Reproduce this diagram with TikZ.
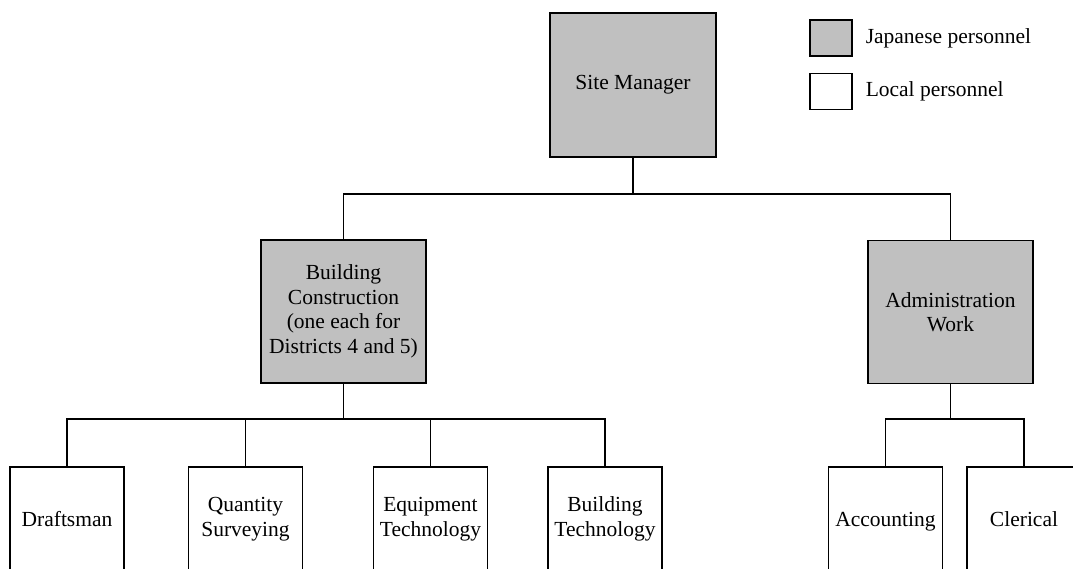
\documentclass[tikz,border=0pt]{standalone}
\usepackage{fontspec}
\setmainfont{Liberation Serif}
\usetikzlibrary{positioning}

\definecolor{jpgray}{HTML}{C0C0C0}

\tikzset{every picture/.style={line width=1.5pt}}
\tikzset{
	post/.style={draw=black, inner sep=0pt, align=center,
		font=\fontsize{21.5}{24.5}\selectfont},
	japanese/.style={post, fill=jpgray},
	local/.style={post, fill=white},
	bigpost/.style={minimum width=165pt, minimum height=143pt},
	smallpost/.style={minimum width=114pt, minimum height=104pt},
	legendbox/.style={draw=black, minimum width=42pt, minimum height=36pt, inner sep=0pt},
	legendtext/.style={anchor=west, inner sep=0pt, font=\fontsize{21.5}{24.5}\selectfont}}

\begin{document}
\begin{tikzpicture}[x=1pt,y=1pt,yscale=-1,xscale=1]
	\useasboundingbox (0,0) rectangle (1073,569);
	\clip (0,0) rectangle (1073,569);

	% Site manager at the top
	\node[japanese, minimum width=166pt, minimum height=144pt] (sm) at (633,85) {Site Manager};

	% Legend
	\node[legendbox, fill=jpgray] (keyjp) at (831,38) {};
	\node[legendbox, fill=white] (keylocal) at (831,91.5) {};
	\node[legendtext] (keyjptext) at (865,38) {Japanese personnel};
	\node[legendtext] (keylocaltext) at (865,91.5) {Local personnel};

	% Second level
	\node[japanese, bigpost] (bc) at (343.5,311.5) {Building\\Construction\\(one each for\\Districts 4 and 5)};
	\node[japanese, bigpost] (adm) at (950.5,312) {Administration\\Work};

	% Local staff under building construction
	\node[local, smallpost] (draft) at (67,519) {Draftsman};
	\node[local, smallpost] (quant) at (245.5,519) {Quantity\\Surveying};
	\node[local, smallpost] (equip) at (430.5,519) {Equipment\\Technology};
	\node[local, smallpost] (btech) at (605,519) {Building\\Technology};

	% Local staff under administration
	\node[local, smallpost, text depth=0pt] (acct) at (885.5,519) {Accounting};
	\node[local, smallpost] (cler) at (1024,519) {Clerical};

	% Branch points
	\coordinate (topbus) at (633,194);
	\coordinate (bcbus) at (343.5,419);
	\coordinate (admbus) at (950.5,419);

	% Connectors
	\draw (sm.south) -- (topbus);
	\draw (bc.north) |- (topbus) -| (adm.north);
	\draw (bc.south) -- (bcbus);
	\draw (adm.south) -- (admbus);
	\foreach \n in {draft,quant,equip,btech}
		\draw (bcbus) -| (\n.north);
	\foreach \n in {acct,cler}
		\draw (admbus) -| (\n.north);

\end{tikzpicture}
\end{document}
